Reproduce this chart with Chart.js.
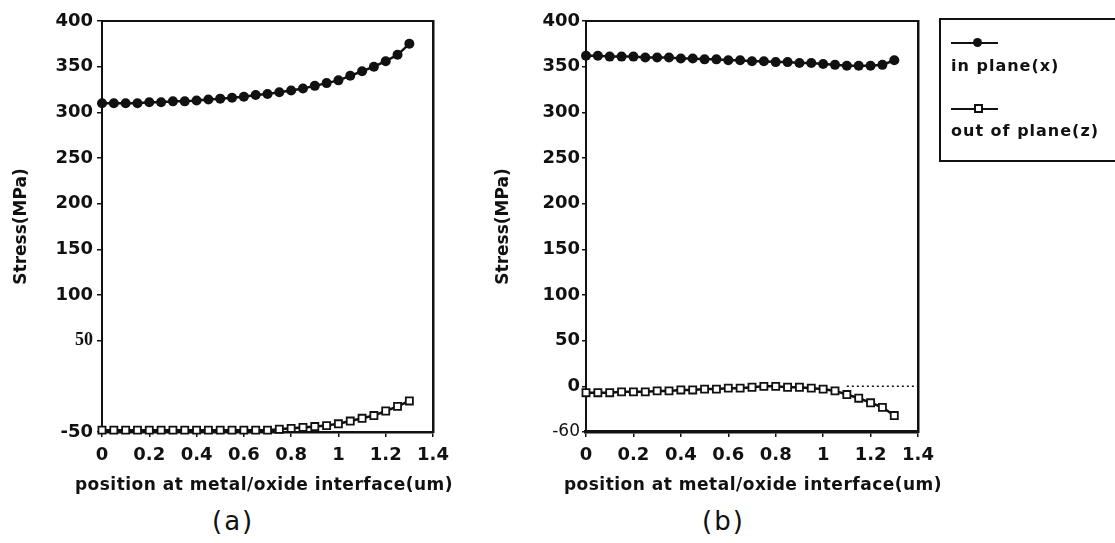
<!DOCTYPE html>
<html>
<head>
<meta charset="utf-8">
<script src="https://cdn.jsdelivr.net/npm/chart.js@4.4.0/dist/chart.umd.min.js"></script>
<style>
    body { margin: 0; width: 1115px; height: 543px; background: #fff; position: relative; overflow: hidden; font-family: "DejaVu Sans", sans-serif; color: #111; }
    #chartA { position: absolute; left: 0; top: 0; }
    #chartB { position: absolute; left: 480px; top: 0; }
    .cap { position: absolute; top: 506px; font-size: 26px; letter-spacing: 2px; }
    .xTitle { position: absolute; top: 474px; width: 420px; text-align: center; font-size: 17px; letter-spacing: 0.5px; font-weight: bold; white-space: nowrap; }
    #legend { position: absolute; left: 939px; top: 18px; width: 200px; height: 140px; border: 2px solid #111; border-right: none; }
    .lgLine { position: absolute; left: 10px; width: 47px; height: 0; border-top: 2px solid #111; }
    .lgDot { position: absolute; left: 32px; width: 9px; height: 9px; border-radius: 50%; background: #111; }
    .lgSq { position: absolute; left: 33px; width: 5px; height: 5px; border: 2px solid #111; background: #fff; }
    .lgText { position: absolute; left: 10px; font-size: 16px; font-weight: bold; letter-spacing: 1px; white-space: nowrap; }
</style>
</head>
<body>
<canvas id="chartA" width="470" height="500"></canvas>
<canvas id="chartB" width="635" height="500"></canvas>
<div class="xTitle" id="xTitleA" style="left:54px"></div>
<div class="xTitle" id="xTitleB" style="left:543px"></div>
<div class="cap" style="left:212px">(a)</div>
<div class="cap" style="left:702px">(b)</div>
<div id="legend">
    <div class="lgLine" style="top:22px"></div><div class="lgDot" style="top:18px"></div>
    <div class="lgText" style="top:36px">in plane(x)</div>
    <div class="lgLine" style="top:88px"></div><div class="lgSq" style="top:84px"></div>
    <div class="lgText" style="top:101px">out of plane(z)</div>
</div>
<script>
// positions along the interface (um)
const positions = [0, 0.05, 0.1, 0.15, 0.2, 0.25, 0.3, 0.35, 0.4, 0.45, 0.5, 0.55, 0.6, 0.65,
                   0.7, 0.75, 0.8, 0.85, 0.9, 0.95, 1.0, 1.05, 1.1, 1.15, 1.2, 1.25, 1.3];

// (a)
const inPlaneA  = [310, 310, 310, 310, 311, 311, 312, 312, 313, 314, 315, 316, 317, 319,
                   320, 322, 324, 326, 329, 332, 335, 340, 345, 350, 356, 363, 375];
const outPlaneA = [-48, -48, -48, -48, -48, -48, -48, -48, -48, -48, -48, -48, -48, -48,
                   -48, -47, -46, -45, -44, -43, -41, -38, -35, -32, -27, -22, -16];

// (b)
const inPlaneB  = [362, 362, 361, 361, 361, 360, 360, 360, 359, 359, 358, 358, 357, 357,
                   356, 356, 355, 355, 354, 354, 353, 352, 351, 351, 351, 352, 357];
const outPlaneB = [-7, -7, -7, -6, -6, -6, -5, -5, -4, -4, -3, -3, -2, -2,
                   -1, 0, 0, -1, -1, -2, -3, -5, -9, -13, -18, -23, -32];
const zeroLineX = [1.1, 1.4];
const zeroLineY = [0, 0];

// axes
const xTickValues = [0, 0.2, 0.4, 0.6, 0.8, 1.0, 1.2, 1.4];
const xTickLabels = ['0', '0.2', '0.4', '0.6', '0.8', '1', '1.2', '1.4'];
const yTickValues = [-50, 0, 50, 100, 150, 200, 250, 300, 350, 400];
const yTickLabelsA = ['-50', '', '50', '100', '150', '200', '250', '300', '350', '400'];
const yTickLabelsB = ['-60', '0', '50', '100', '150', '200', '250', '300', '350', '400'];

const xTitle = 'position at metal/oxide interface(um)';
const yTitle = 'Stress(MPa)';

// x titles are wider than the plot, so they sit in plain text under each canvas
document.getElementById('xTitleA').textContent = xTitle;
document.getElementById('xTitleB').textContent = xTitle;

const INK = '#111';
const tickFont = { family: 'DejaVu Sans', size: 18, weight: 'bold' };

function pts(xs, ys) {
    return xs.map((x, i) => ({ x: x, y: ys[i] }));
}

function makeChart(id, inPlane, outPlane, yLabels, geo, extra) {
    const datasets = [
        {
            label: 'in plane(x)',
            data: pts(positions, inPlane),
            borderColor: INK, backgroundColor: INK, borderWidth: 2.5,
            pointStyle: 'circle', pointRadius: 5, pointBackgroundColor: INK, pointBorderWidth: 0
        },
        {
            label: 'out of plane(z)',
            data: pts(positions, outPlane),
            borderColor: INK, backgroundColor: '#fff', borderWidth: 2.5,
            pointStyle: 'rect', pointRadius: 5, pointBackgroundColor: '#fff',
            pointBorderColor: INK, pointBorderWidth: 1.8
        }
    ].concat(extra || []);

    return new Chart(document.getElementById(id), {
        type: 'line',
        data: { datasets: datasets },
        options: {
            responsive: false,
            animation: false,
            clip: false,
            layout: { padding: { top: 21, right: geo.padRight, left: 0, bottom: 0 } },
            plugins: { legend: { display: false }, tooltip: { enabled: false } },
            scales: {
                x: {
                    type: 'linear', position: 'bottom', min: 0, max: 1.4,
                    afterBuildTicks: s => { s.ticks = xTickValues.map(v => ({ value: v })); },
                    afterFit: s => { s.height = 68; },
                    grid: { drawOnChartArea: false, drawTicks: true, tickLength: 5, color: INK, lineWidth: 1.5 },
                    border: { display: true, color: INK, width: geo.xBorder },
                    ticks: { color: INK, font: tickFont, padding: 8, maxRotation: 0, autoSkip: false,
                             callback: (v, i) => xTickLabels[i] }
                },
                y: {
                    type: 'linear', position: 'left', min: -50, max: 400,
                    afterBuildTicks: s => { s.ticks = yTickValues.map(v => ({ value: v })); },
                    afterFit: s => { s.width = geo.yWidth; },
                    grid: { drawOnChartArea: false, drawTicks: true, tickLength: geo.tickLen, lineWidth: 1.5,
                            color: c => (id === 'chartA' && c.tick && c.tick.value === 0) ? 'rgba(0,0,0,0)' : INK },
                    border: { display: true, color: INK, width: 2 },
                    ticks: { color: INK, padding: geo.tickPad, autoSkip: false,
                             font: c => (c.tick && c.tick.value === 50 && id === 'chartA')
                                 ? { family: 'Liberation Serif', size: 18, weight: 'bold' }
                                 : (c.tick && c.tick.value === -50 && id === 'chartB')
                                     ? { family: 'DejaVu Sans', size: 17, weight: 'normal' }
                                     : tickFont,
                             callback: (v, i) => yLabels[i] },
                    title: { display: true, text: yTitle, color: INK,
                             font: { family: 'DejaVu Sans', size: 17, weight: 'bold' }, padding: { top: geo.yTitlePad } }
                },
                xTop: {
                    type: 'linear', position: 'top', min: 0, max: 1.4,
                    afterFit: s => { s.height = 0; },
                    grid: { display: false },
                    border: { display: true, color: INK, width: 2 },
                    ticks: { display: false }
                },
                yRight: {
                    type: 'linear', position: 'right', min: -50, max: 400,
                    afterFit: s => { s.width = 0; },
                    grid: { display: false },
                    border: { display: true, color: INK, width: 2.5 },
                    ticks: { display: false }
                }
            }
        }
    });
}

makeChart('chartA', inPlaneA, outPlaneA, yTickLabelsA,
    { yWidth: 102, padRight: 37, tickLen: 5, tickPad: 4, yTitlePad: 11, xBorder: 2.5 });

makeChart('chartB', inPlaneB, outPlaneB, yTickLabelsB,
    { yWidth: 106, padRight: 197, tickLen: 4, tickPad: 2, yTitlePad: 13, xBorder: 3.5 },
    [{
        label: 'zero',
        data: pts(zeroLineX, zeroLineY),
        borderColor: INK, borderWidth: 1.5, borderDash: [2, 3], pointRadius: 0
    }]);
</script>
</body>
</html>
